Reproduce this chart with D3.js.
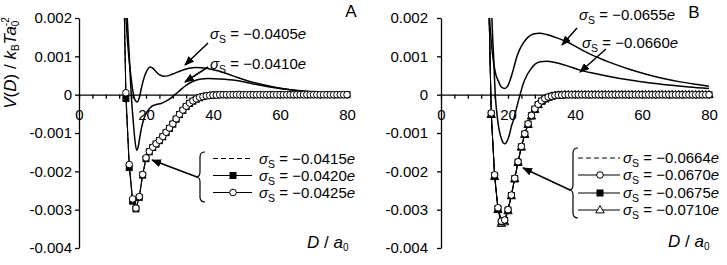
<!DOCTYPE html>
<html>
<head>
<meta charset="utf-8">
<script src="https://cdn.jsdelivr.net/npm/d3@7"></script>
<style>
  body { margin: 0; background: #fff; }
  svg { display: block; font-family: "Liberation Sans", Arial, sans-serif; }
</style>
</head>
<body>
<div id="chart"></div>
<script>
// V(D) values are in units of 1e-3 kBT/a0^2
const yTicks = [2, 1, 0, -1, -2, -3, -4];
const yTickLabels = ['0.002', '0.001', '0', '-0.001', '-0.002', '-0.003', '-0.004'];
const xLabelTicks = [0, 20, 40, 60, 80];
const xMinorTicks = [0, 4, 8, 12, 16, 20, 24, 28, 32, 36, 40, 44, 48, 52, 56, 60, 64, 68, 72, 76, 80];

// panel A: surface charges (units of e)
const sigmaA = [-0.0405, -0.0410, -0.0415, -0.0420, -0.0425];
// panel B
const sigmaB = [-0.0655, -0.0660, -0.0664, -0.0670, -0.0675, -0.0710];

// smooth curves, panel A
const dA405 = [13.5, 14.0, 14.7, 15.4, 16.2, 16.8, 17.4, 18.0, 18.7, 19.7, 20.5, 21.2, 22.0, 23.0, 24.0, 25.2, 26.5, 28.0, 30.0, 32.5, 35.0, 38.0, 42, 46, 50, 55, 60, 65, 70, 75, 80];
const vA405 = [2.9, 2.0, 1.16, 0.55, 0.03, -0.15, -0.19, -0.08, 0.2, 0.51, 0.66, 0.72, 0.69, 0.6, 0.52, 0.48, 0.49, 0.54, 0.61, 0.68, 0.71, 0.69, 0.61, 0.49, 0.37, 0.26, 0.17, 0.11, 0.08, 0.06, 0.05];
const dA410 = [13.9, 14.4, 15.0, 15.7, 16.2, 16.7, 17.2, 17.7, 18.2, 18.7, 19.4, 20.2, 21.0, 21.8, 23.0, 24.5, 26.0, 27.7, 29.6, 31.6, 34.1, 36.5, 38.5, 42, 47, 52, 57, 62, 67, 72, 76, 80];
const vA410 = [3.0, 2.0, 1.0, -0.14, -0.7, -1.19, -1.45, -1.35, -1.08, -0.85, -0.62, -0.46, -0.37, -0.3, -0.26, -0.23, -0.17, -0.07, 0.07, 0.22, 0.35, 0.41, 0.42, 0.41, 0.37, 0.28, 0.2, 0.14, 0.09, 0.06, 0.05, 0.04];

// smooth curves, panel B
const dB655 = [14.2, 14.5, 15.0, 15.6, 16.3, 17.1, 18.0, 19.1, 20.0, 20.8, 21.6, 22.5, 23.5, 24.6, 26.0, 27.6, 29.4, 31.5, 34, 37.5, 42, 46, 51.4, 56, 61, 66.4, 71, 76, 80];
const vB655 = [2.6, 2.0, 1.4, 0.9, 0.55, 0.36, 0.2, 0.16, 0.24, 0.42, 0.66, 0.95, 1.18, 1.35, 1.5, 1.58, 1.6, 1.57, 1.5, 1.38, 1.17, 1.0, 0.81, 0.67, 0.54, 0.42, 0.34, 0.27, 0.22];
const dB660 = [14.9, 15.2, 15.7, 16.2, 16.7, 17.2, 17.7, 18.2, 18.6, 19.1, 19.7, 20.4, 21.1, 21.6, 22.6, 23.6, 24.6, 25.6, 26.6, 28.0, 29.6, 31.5, 34, 37, 41.5, 46, 51, 56.4, 62, 68, 74, 80];
const vB660 = [3.0, 2.0, 1.0, 0.0, -0.5, -0.84, -1.05, -1.19, -1.26, -1.28, -1.22, -1.05, -0.8, -0.67, -0.33, 0.0, 0.3, 0.5, 0.64, 0.79, 0.86, 0.87, 0.84, 0.77, 0.64, 0.55, 0.46, 0.38, 0.31, 0.25, 0.2, 0.16];

// marker series, panel A (D = 13 ... 80)
const dGridA = [13, 14, 15, 16, 17, 18, 19, 20, 21, 22, 23, 24, 25, 26, 27, 28, 29, 30, 31, 32, 33, 34, 35, 36, 37, 38, 39, 40,
  41, 42, 43, 44, 45, 46, 47, 48, 49, 50, 51, 52, 53, 54, 55, 56, 57, 58, 59, 60, 61, 62, 63, 64, 65, 66, 67, 68, 69, 70,
  71, 72, 73, 74, 75, 76, 77, 78, 79, 80];
const vA415 = [4.5, -0.02, -1.86, -2.75, -2.97, -2.67, -2.10, -1.67, -1.49, -1.38, -1.29, -1.20, -1.10, -0.99, -0.88, -0.77,
  -0.64, -0.52, -0.41, -0.31, -0.23, -0.17, -0.12, -0.08, -0.05, -0.03, -0.02, -0.01, -0.01,
  0, 0, 0, 0, 0, 0, 0, 0, 0, 0, 0, 0, 0, 0, 0, 0, 0, 0, 0, 0, 0, 0, 0, 0, 0, 0, 0, 0, 0, 0, 0, 0, 0, 0, 0, 0, 0, 0, 0];
const vA420 = [4.5, -0.10, -1.90, -2.78, -2.98, -2.68, -2.10, -1.67, -1.49, -1.38, -1.29, -1.20, -1.10, -0.99, -0.88, -0.77,
  -0.64, -0.52, -0.41, -0.31, -0.23, -0.17, -0.12, -0.08, -0.05, -0.03, -0.02, -0.01, -0.01,
  0, 0, 0, 0, 0, 0, 0, 0, 0, 0, 0, 0, 0, 0, 0, 0, 0, 0, 0, 0, 0, 0, 0, 0, 0, 0, 0, 0, 0, 0, 0, 0, 0, 0, 0, 0, 0, 0, 0];
const vA425 = [4.5, 0.05, -1.82, -2.72, -2.96, -2.66, -2.08, -1.65, -1.48, -1.37, -1.28, -1.19, -1.09, -0.98, -0.87, -0.76,
  -0.63, -0.51, -0.40, -0.30, -0.22, -0.16, -0.11, -0.07, -0.05, -0.03, -0.02, -0.01, -0.01,
  0, 0, 0, 0, 0, 0, 0, 0, 0, 0, 0, 0, 0, 0, 0, 0, 0, 0, 0, 0, 0, 0, 0, 0, 0, 0, 0, 0, 0, 0, 0, 0, 0, 0, 0, 0, 0, 0, 0];

// marker series, panel B (D = 14 ... 80)
const dGridB = [14, 15, 16, 17, 18, 19, 20, 21, 22, 23, 24, 25, 26, 27, 28, 29, 30, 31, 32, 33, 34, 35, 36, 37, 38, 39, 40,
  41, 42, 43, 44, 45, 46, 47, 48, 49, 50, 51, 52, 53, 54, 55, 56, 57, 58, 59, 60, 61, 62, 63, 64, 65, 66, 67, 68, 69, 70,
  71, 72, 73, 74, 75, 76, 77, 78, 79, 80];
const vB664 = [3.4, -0.46, -2.07, -2.93, -3.28, -3.25, -2.99, -2.61, -2.17, -1.74, -1.35, -1.02, -0.76, -0.54, -0.37,
  -0.25, -0.16, -0.10, -0.06, -0.04, -0.02, -0.01, -0.01,
  0, 0, 0, 0, 0, 0, 0, 0, 0, 0, 0, 0, 0, 0, 0, 0, 0, 0, 0, 0, 0, 0, 0, 0, 0, 0, 0, 0, 0, 0, 0, 0, 0, 0, 0, 0, 0, 0, 0, 0, 0, 0, 0, 0];
const vB670 = [3.5, -0.48, -2.09, -2.95, -3.30, -3.27, -3.00, -2.62, -2.18, -1.75, -1.35, -1.02, -0.76, -0.54, -0.37,
  -0.25, -0.16, -0.10, -0.06, -0.04, -0.02, -0.01, -0.01,
  0, 0, 0, 0, 0, 0, 0, 0, 0, 0, 0, 0, 0, 0, 0, 0, 0, 0, 0, 0, 0, 0, 0, 0, 0, 0, 0, 0, 0, 0, 0, 0, 0, 0, 0, 0, 0, 0, 0, 0, 0, 0, 0, 0];
const vB675 = [3.5, -0.50, -2.11, -2.97, -3.32, -3.28, -3.01, -2.63, -2.19, -1.76, -1.36, -1.03, -0.77, -0.55, -0.38,
  -0.26, -0.17, -0.11, -0.07, -0.04, -0.02, -0.01, -0.01,
  0, 0, 0, 0, 0, 0, 0, 0, 0, 0, 0, 0, 0, 0, 0, 0, 0, 0, 0, 0, 0, 0, 0, 0, 0, 0, 0, 0, 0, 0, 0, 0, 0, 0, 0, 0, 0, 0, 0, 0, 0, 0, 0, 0];
const vB710 = [3.6, -0.52, -2.14, -3.00, -3.36, -3.32, -3.03, -2.64, -2.20, -1.77, -1.37, -1.04, -0.78, -0.56, -0.39,
  -0.26, -0.17, -0.11, -0.07, -0.04, -0.02, -0.01, -0.01,
  0, 0, 0, 0, 0, 0, 0, 0, 0, 0, 0, 0, 0, 0, 0, 0, 0, 0, 0, 0, 0, 0, 0, 0, 0, 0, 0, 0, 0, 0, 0, 0, 0, 0, 0, 0, 0, 0, 0, 0, 0, 0, 0, 0];

const svg = d3.select('#chart').append('svg').attr('width', 727).attr('height', 265);
const defs = svg.append('defs');
defs.append('marker')
  .attr('id', 'arrow')
  .attr('viewBox', '0 0 10 8')
  .attr('refX', 9).attr('refY', 4)
  .attr('markerWidth', 10).attr('markerHeight', 8)
  .attr('markerUnits', 'userSpaceOnUse')
  .attr('orient', 'auto')
  .append('path').attr('d', 'M0,0L10,4L0,8Z').attr('fill', '#000');

const fmtSigma = v => '\u2212' + Math.abs(v).toFixed(4);

function sigmaLabel(g, x, y, v) {
  const t = g.append('text').attr('x', x).attr('y', y).attr('font-size', 15);
  t.append('tspan').attr('font-style', 'italic').text('σ');
  t.append('tspan').attr('font-size', 10.5).attr('dy', 4).text('S');
  t.append('tspan').attr('dy', -4).text(' = ' + fmtSigma(v));
  t.append('tspan').attr('font-style', 'italic').text('e');
}

function drawMarker(g, type, cx, cy) {
  if (type === 'square') {
    g.append('rect').attr('x', cx - 3.5).attr('y', cy - 3.5).attr('width', 7).attr('height', 7)
      .attr('fill', '#000');
  } else if (type === 'circle') {
    g.append('circle').attr('cx', cx).attr('cy', cy).attr('r', 3.3)
      .attr('fill', '#fff').attr('stroke', '#000').attr('stroke-width', 1);
  } else if (type === 'triangle') {
    g.append('path').attr('d', d3.symbol(d3.symbolTriangle, 30)())
      .attr('transform', `translate(${cx},${cy + 0.5})`)
      .attr('fill', '#fff').attr('stroke', '#000').attr('stroke-width', 1);
  }
}

function drawPanel(p) {
  const x = d3.scaleLinear().domain([0, 80]).range([p.x0, p.x0 + 268]);
  const y = d3.scaleLinear().domain([-4, 2]).range([248, 18]);
  const g = svg.append('g');

  defs.append('clipPath').attr('id', 'clip' + p.name).append('rect')
    .attr('x', x(0) - 6).attr('y', y(2))
    .attr('width', x(80) - x(0) + 12).attr('height', y(-4) - y(2));

  // axes
  const yAxis = g.append('g')
    .attr('transform', `translate(${x(0)},0)`)
    .call(d3.axisLeft(y).tickValues(yTicks).tickSize(4).tickSizeOuter(0).tickPadding(p.pad)
      .tickFormat((d, i) => yTickLabels[i]));
  const xAxis = g.append('g')
    .attr('transform', `translate(0,${y(0)})`)
    .call(d3.axisBottom(x).tickValues(xMinorTicks).tickSize(4).tickSizeOuter(0).tickFormat(''));
  const xLab = g.append('g')
    .attr('transform', `translate(0,${y(0)})`)
    .call(d3.axisBottom(x).tickValues(xLabelTicks).tickSize(0).tickPadding(15));
  xLab.select('.domain').remove();
  [yAxis, xAxis, xLab].forEach(a => a.attr('font-size', 15).attr('font-family', null));
  g.selectAll('.tick text').attr('fill', '#000');
  g.selectAll('.domain, .tick line').attr('stroke', '#000').attr('stroke-width', 1.3);

  const plot = g.append('g').attr('clip-path', `url(#clip${p.name})`);

  const smooth = d3.line().x(d => x(d[0])).y(d => y(d[1])).curve(d3.curveMonotoneX);
  const straight = d3.line().x(d => x(d[0])).y(d => y(d[1]));

  p.curves.forEach(c => {
    plot.append('path').datum(d3.zip(c.d, c.v)).attr('d', smooth)
      .attr('fill', 'none').attr('stroke', '#000').attr('stroke-width', 1.5);
  });

  // marker series: lines first, then markers in draw order
  p.series.forEach(s => {
    plot.append('path').datum(d3.zip(p.grid, s.v)).attr('d', straight)
      .attr('fill', 'none').attr('stroke', '#000').attr('stroke-width', 1)
      .attr('stroke-dasharray', s.type === 'dash' ? '5,3' : null);
  });
  p.markerOrder.forEach(k => {
    const s = p.series[k];
    const mg = plot.append('g');
    p.grid.forEach((dv, i) => drawMarker(mg, s.type, x(dv), y(s.v[i])));
  });

  // annotations
  const ann = g.append('g');
  p.topLabels.forEach(l => {
    sigmaLabel(ann, p.x0 + l.x, l.y, l.sigma);
    ann.append('line')
      .attr('x1', p.x0 + l.a[0]).attr('y1', l.a[1]).attr('x2', p.x0 + l.a[2]).attr('y2', l.a[3])
      .attr('stroke', '#000').attr('stroke-width', 1.5).attr('marker-end', 'url(#arrow)');
  });

  const L = p.legend;
  const bx = p.x0 + L.braceX, tx = p.x0 + L.tipX;
  ann.append('path')
    .attr('d', `M${bx + 5},${L.top} Q${bx},${L.top} ${bx},${L.top + 5} L${bx},${L.tipY - 5} ` +
      `Q${bx},${L.tipY} ${tx},${L.tipY} Q${bx},${L.tipY} ${bx},${L.tipY + 5} ` +
      `L${bx},${L.bottom - 5} Q${bx},${L.bottom} ${bx + 5},${L.bottom}`)
    .attr('fill', 'none').attr('stroke', '#000').attr('stroke-width', 1.2);
  ann.append('line')
    .attr('x1', tx + 1).attr('y1', L.tipY).attr('x2', p.x0 + L.arrowTo[0]).attr('y2', L.arrowTo[1])
    .attr('stroke', '#000').attr('stroke-width', 1.5).attr('marker-end', 'url(#arrow)');
  L.rows.forEach((r, i) => {
    const ry = L.rowY[i];
    ann.append('line')
      .attr('x1', p.x0 + L.lineX[0]).attr('x2', p.x0 + L.lineX[1]).attr('y1', ry).attr('y2', ry)
      .attr('stroke', '#000').attr('stroke-width', 1)
      .attr('stroke-dasharray', r.type === 'dash' ? '5,3' : null);
    drawMarker(ann, r.type, p.x0 + L.markX, ry);
    sigmaLabel(ann, p.x0 + L.textX, ry + 5, r.sigma);
  });

  // panel letter and x title
  g.append('text').attr('x', p.letterPos[0]).attr('y', p.letterPos[1]).attr('text-anchor', 'middle')
    .attr('font-size', 17).text(p.name);
  const xt = g.append('text').attr('x', p.xTitle[0]).attr('y', p.xTitle[1]).attr('font-size', 17);
  xt.append('tspan').attr('font-style', 'italic').text('D');
  xt.append('tspan').text(' / ');
  xt.append('tspan').attr('font-style', 'italic').text('a');
  xt.append('tspan').attr('font-size', 10).attr('dy', 3).text('0');
}

drawPanel({
  name: 'A', x0: 79, pad: 3,
  curves: [{ d: dA405, v: vA405 }, { d: dA410, v: vA410 }],
  grid: dGridA,
  series: [{ v: vA415, type: 'dash' }, { v: vA420, type: 'square' }, { v: vA425, type: 'circle' }],
  markerOrder: [1, 2],
  topLabels: [
    { sigma: sigmaA[0], x: 131, y: 38.5, a: [129, 43, 106, 65] },
    { sigma: sigmaA[1], x: 131, y: 69, a: [129, 67, 106, 82] }
  ],
  legend: {
    braceX: 121, tipX: 117, top: 152, bottom: 202, tipY: 177,
    arrowTo: [73, 160],
    rowY: [158.5, 175.5, 192.5],
    lineX: [134, 173], markX: 154, textX: 180,
    rows: [{ type: 'dash', sigma: sigmaA[2] }, { type: 'square', sigma: sigmaA[3] }, { type: 'circle', sigma: sigmaA[4] }]
  },
  letterPos: [351, 17],
  xTitle: [307, 248]
});

drawPanel({
  name: 'B', x0: 441, pad: 9,
  curves: [{ d: dB655, v: vB655 }, { d: dB660, v: vB660 }],
  grid: dGridB,
  series: [{ v: vB664, type: 'dash' }, { v: vB670, type: 'circle' }, { v: vB675, type: 'square' }, { v: vB710, type: 'triangle' }],
  markerOrder: [3, 2, 1],
  topLabels: [
    { sigma: sigmaB[0], x: 138, y: 20, a: [136, 28, 121, 45] },
    { sigma: sigmaB[1], x: 141, y: 48, a: [165, 49, 139, 72] }
  ],
  legend: {
    braceX: 132, tipX: 128, top: 148, bottom: 218, tipY: 190,
    arrowTo: [82, 168],
    rowY: [158, 175, 193, 210],
    lineX: [137, 179], markX: 159, textX: 182,
    rows: [{ type: 'dash', sigma: sigmaB[2] }, { type: 'circle', sigma: sigmaB[3] },
      { type: 'square', sigma: sigmaB[4] }, { type: 'triangle', sigma: sigmaB[5] }]
  },
  letterPos: [694, 18],
  xTitle: [668, 247]
});

// y-axis title
const yt = svg.append('text').attr('transform', 'translate(16,63) rotate(-90)')
  .attr('text-anchor', 'middle').attr('font-size', 17);
yt.append('tspan').attr('font-style', 'italic').text('V');
yt.append('tspan').text('(');
yt.append('tspan').attr('font-style', 'italic').text('D');
yt.append('tspan').text(') / ');
yt.append('tspan').attr('font-style', 'italic').text('k');
yt.append('tspan').attr('font-size', 10).attr('dy', 3).text('B');
yt.append('tspan').attr('font-style', 'italic').attr('dy', -3).text('T');
yt.append('tspan').attr('font-style', 'italic').text('a');
yt.append('tspan').attr('font-size', 10).attr('dy', 3).text('0');
yt.append('tspan').attr('font-size', 10).attr('dx', -5.6).attr('dy', -10).text('-2');
</script>
</body>
</html>
